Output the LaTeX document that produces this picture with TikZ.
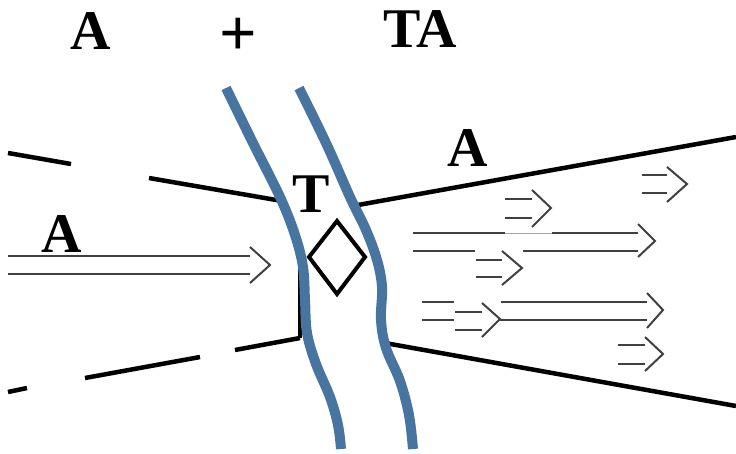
\documentclass[tikz,border=0pt]{standalone}
\usepackage{fontspec}
\setmainfont{Liberation Serif}
\begin{document}
\begin{tikzpicture}[x=1pt,y=-1pt,
  lbl/.style={inner sep=0pt,font=\fontsize{56}{56}\selectfont\bfseries},
  plus/.style={inner sep=0pt,font=\fontsize{66}{66}\selectfont\bfseries},
  wall/.style={line width=4.5pt,black},
  river/.style={line width=10pt,color={rgb,255:red,72;green,117;blue,160}},
  flow/.style={line width=2pt,color=black!75},
  valve/.style={line width=4pt,black,line join=miter}]
\useasboundingbox (0,0) rectangle (736,453);
% walls
\coordinate (ul0) at (8,153);
\coordinate (ul1) at (71,164);
\coordinate (ul2) at (149,178);
\coordinate (ul3) at (282,201);
\draw[wall] (ul0) -- (ul1);
\draw[wall] (ul2) -- (ul3);
\coordinate (ur0) at (358,205);
\coordinate (ur1) at (736,137);
\draw[wall] (ur0) -- (ur1);
\coordinate (ll0) at (8,392);
\coordinate (ll1) at (27,388);
\coordinate (ll2) at (85,378);
\coordinate (ll3) at (200,357);
\coordinate (ll4) at (235,350);
\coordinate (ll5) at (300,338);
\draw[wall] (ll0) -- (ll1);
\draw[wall] (ll2) -- (ll3);
\draw[wall] (ll4) -- (ll5);
\coordinate (lv0) at (300,265);
\draw[wall] (lv0) -- (ll5);
\coordinate (lr0) at (385,343);
\coordinate (lr1) at (736,406);
\draw[wall] (lr0) -- (lr1);
% blue curves
\draw[river] plot[smooth,tension=0.6] coordinates {(226,88) (253,143) (280,197) (295,235) (303,267) (305,300) (307,333) (316,364) (330,397) (338,425) (341,449)};
\draw[river] plot[smooth,tension=0.6] coordinates {(299,88) (326,143) (350,197) (366,230) (377,260) (382,287) (381,320) (386,348) (400,381) (409,415) (413,449)};
% diamond
\coordinate (dt) at (337,221);
\coordinate (dr) at (365,257);
\coordinate (db) at (337,294);
\coordinate (dl) at (309,257);
\draw[valve] (dt) -- (dr) -- (db) -- (dl) -- cycle;
% big left arrow
\draw[flow] (8,256) -- (250,256) (8,274) -- (250,274);
\draw[flow,line join=miter] (250,247) -- (270,265) -- (250,283);
% arrow 1
\draw[flow] (642,175) -- (667,175) (642,193) -- (667,193);
\draw[flow] (667,167) -- (687,184) -- (667,202);
% arrow 2
\draw[flow] (505,199) -- (532,199) (505,218) -- (532,218);
\draw[flow] (532,190) -- (551,208) -- (532,227);
% arrow 3 (long)
\draw[flow] (413,233) -- (505,233) (552,233) -- (638,233);
\draw[line width=1pt,black!35] (505,233) -- (552,233);
\draw[flow] (413,251) -- (475,251) (523,251) -- (638,251);
\draw[flow] (638,224) -- (655,241) -- (638,257);
% arrow 4
\draw[flow] (476,260) -- (502,260) (476,277) -- (502,277);
\draw[flow] (502,251) -- (522,268) -- (502,285);
% dashes
\draw[flow] (422,302) -- (454,302) (422,320) -- (454,320);
% arrow 6
\draw[flow] (455,312) -- (482,312) (455,330) -- (482,330);
\draw[flow] (482,303) -- (500,319) -- (482,337);
% arrow 5 (long lower)
\draw[flow] (501,302) -- (647,302) (500,320) -- (647,320);
\draw[flow] (647,293) -- (663,310) -- (647,328);
% arrow 7
\draw[flow] (618,345) -- (645,345) (618,364) -- (645,364);
\draw[flow] (645,337) -- (663,354) -- (645,371);
% labels
\node[lbl] (a1) at (91,31) {A};
\node[plus] (p) at (238,37) {+};
\node[lbl] (ta) at (420,29) {TA};
\node[lbl] (a2) at (62,234) {A};
\node[lbl] (t) at (311,194) {T};
\node[lbl] (a3) at (468,148) {A};
\end{tikzpicture}
\end{document}
